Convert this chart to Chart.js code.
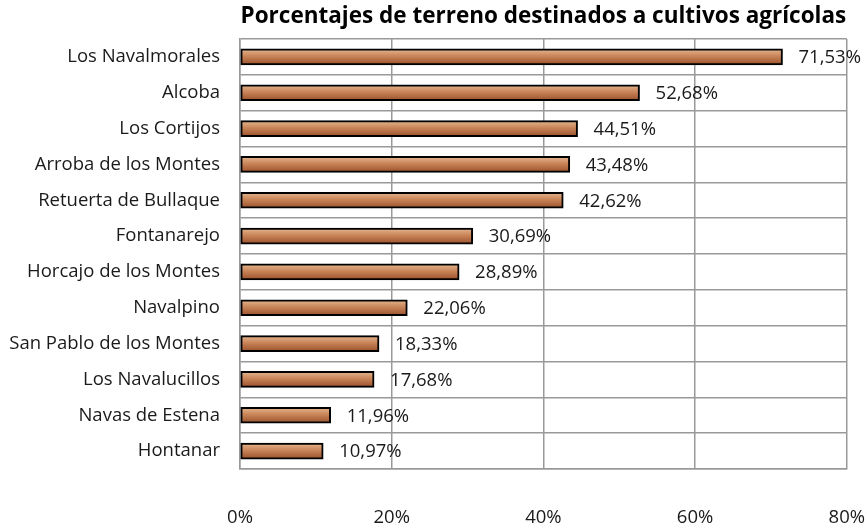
<!DOCTYPE html>
<html>
<head>
<meta charset="utf-8">
<script src="https://cdn.jsdelivr.net/npm/chart.js@4"></script>
<style>
	html, body { margin: 0; padding: 0; background: #fff; }
	#wrap { width: 867px; height: 529px; }
</style>
</head>
<body>
<div id="wrap"><canvas id="grafico"></canvas></div>
<script>
// Municipios y porcentaje de terreno agrícola
const municipios = [
	"Los Navalmorales",
	"Alcoba",
	"Los Cortijos",
	"Arroba de los Montes",
	"Retuerta de Bullaque",
	"Fontanarejo",
	"Horcajo de los Montes",
	"Navalpino",
	"San Pablo de los Montes",
	"Los Navalucillos",
	"Navas de Estena",
	"Hontanar",
];
const porcentajes = [71.53, 52.68, 44.51, 43.48, 42.62, 30.69, 28.89, 22.06, 18.33, 17.68, 11.96, 10.97];
const ticksEjeX = [0, 20, 40, 60, 80];

const fuente = "'Open Sans', sans-serif";
const grosorBarra = 16;

// Formato con coma decimal
const formatoPct = (v) => v.toFixed(2).replace(".", ",") + "%";

// Degradado vertical para cada barra (claro arriba, oscuro abajo)
const rellenoBarra = (context) => {
	const chart = context.chart;
	const escalaY = chart.scales.y;
	if (!escalaY || !chart.chartArea) return "#c47c50";
	const yc = escalaY.getPixelForValue(context.dataIndex);
	const g = chart.ctx.createLinearGradient(0, yc - grosorBarra / 2, 0, yc + grosorBarra / 2);
	g.addColorStop(0, "#e6b992");
	g.addColorStop(0.45, "#c98458");
	g.addColorStop(1, "#99502a");
	return g;
};

// Etiquetas de valor al final de cada barra
const etiquetasValor = {
	id: "etiquetasValor",
	afterDatasetsDraw(chart) {
		const ctx = chart.ctx;
		ctx.save();
		ctx.font = "18.5px " + fuente;
		ctx.fillStyle = "#1a1a1a";
		ctx.textAlign = "left";
		ctx.textBaseline = "middle";
		chart.getDatasetMeta(0).data.forEach((bar, i) => {
			ctx.fillText(formatoPct(porcentajes[i]), bar.x + 16, bar.y + 1);
		});
		ctx.restore();
	},
};

new Chart(document.getElementById("grafico"), {
	type: "bar",
	data: {
		labels: municipios,
		datasets: [
			{
				data: porcentajes,
				backgroundColor: rellenoBarra,
				borderColor: "#000",
				borderWidth: 2,
				borderSkipped: false,
				barThickness: grosorBarra,
			},
		],
	},
	options: {
		indexAxis: "y",
		responsive: true,
		maintainAspectRatio: false,
		animation: false,
		layout: { padding: 0 },
		scales: {
			x: {
				min: 0,
				max: 80,
				afterBuildTicks: (axis) => {
					axis.ticks = ticksEjeX.map((v) => ({ value: v }));
				},
				afterFit: (axis) => {
					axis.height = 60;
				},
				ticks: {
					padding: 2,
					maxRotation: 0,
					color: "#1a1a1a",
					// interlineado alto para bajar las etiquetas del eje
					font: { family: fuente, size: 18.5, lineHeight: 5 },
					callback: (v) => v + "%",
				},
				grid: { color: "#999", lineWidth: 1.5, drawTicks: false },
				border: { color: "#999", width: 1.5 },
			},
			y: {
				afterFit: (axis) => {
					axis.width = 240;
				},
				ticks: {
					padding: 20,
					color: "#1a1a1a",
					font: { family: fuente, size: 18.5 },
				},
				grid: { color: "#999", lineWidth: 1.5, drawTicks: false, offset: true },
				border: { color: "#999", width: 1.5 },
			},
		},
		plugins: {
			legend: { display: false },
			tooltip: { enabled: false },
			title: {
				display: true,
				fullSize: false,
				text: "Porcentajes de terreno destinados a cultivos agrícolas",
				color: "#000",
				font: { family: fuente, size: 22.5, weight: "bold" },
				padding: { top: 3, bottom: 9 },
			},
		},
	},
	plugins: [etiquetasValor],
});
</script>
</body>
</html>
